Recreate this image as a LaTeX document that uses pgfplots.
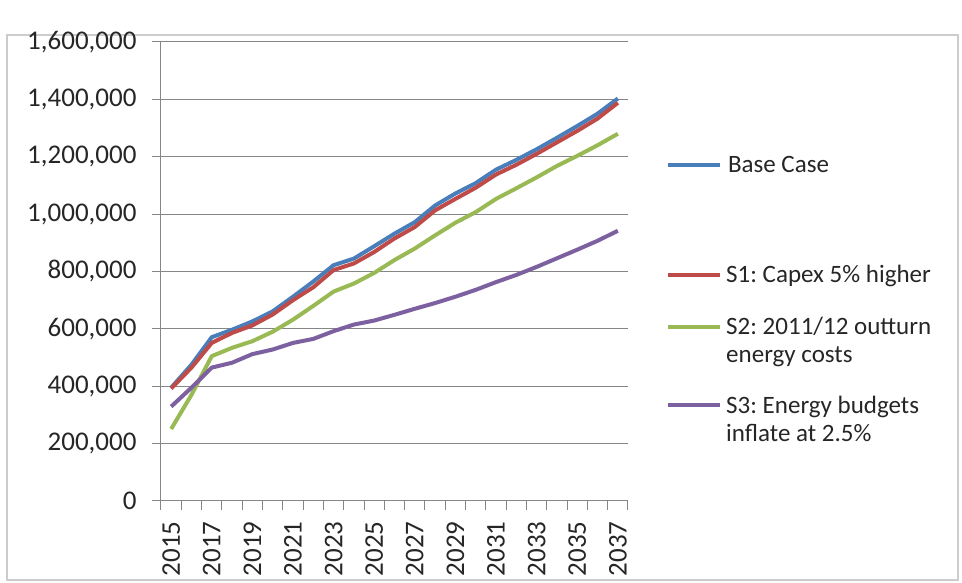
\documentclass[border=0pt]{standalone}
\usepackage{pgfplots}
\usepackage{pgfplotstable}
\pgfplotsset{compat=1.18}
\usepackage{fontspec}
\setmainfont{Carlito}
\frenchspacing

\definecolor{sBase}{HTML}{4A7EBB}
\definecolor{sOne}{HTML}{BE4B48}
\definecolor{sTwo}{HTML}{98B954}
\definecolor{sThree}{HTML}{7D60A0}
\definecolor{gridgray}{HTML}{868686}

% cumulative cost by year, four scenarios
\pgfplotstableread{
year base s1 s2 s3
2015 395000 392000 251000 329000
2016 475000 465000 370000 395000
2017 571000 551000 505000 465000
2018 597000 586000 534000 482000
2019 626000 612000 557000 512000
2020 661000 650000 590000 528000
2021 712000 700000 632000 551000
2022 765000 745000 680000 565000
2023 822000 805000 730000 592000
2024 845000 828000 758000 615000
2025 888000 868000 795000 629000
2026 932000 915000 840000 649000
2027 972000 955000 880000 670000
2028 1030000 1013000 926000 690000
2029 1072000 1053000 970000 712000
2030 1108000 1092000 1007000 736000
2031 1155000 1138000 1053000 763000
2032 1189000 1172000 1090000 788000
2033 1226000 1210000 1128000 816000
2034 1266000 1250000 1168000 846000
2035 1307000 1290000 1203000 876000
2036 1350000 1333000 1240000 907000
2037 1403000 1388000 1280000 942000
}\costs

\pgfplotsset{
  box/.style={at={(161pt,82pt)}, anchor=south west,
    scale only axis, width=467pt, height=459pt},
  keystyle/.style={
    legend style={at={(rel axis cs:1.0814,#1)}, anchor=north west,
      draw=none, fill=none, inner sep=0pt, outer sep=0pt,
      font=\fontsize{25}{28}\selectfont, text=black!85,
      nodes={inner sep=0pt, anchor=base west}},
    legend image code/.code={%
      \draw[##1, line width=4pt] (0pt,8pt) -- (52pt,8pt);
      \path (58pt,8pt);}},
  onlykey/.style={box, hide axis, xmin=0, xmax=1, ymin=0, ymax=1, keystyle=#1},
}

\begin{document}
\begin{tikzpicture}[x=1pt,y=1pt]
\useasboundingbox (0,0) rectangle (962,583);
\draw[gray!40, line width=1.5pt] (7,3) rectangle (958,548);
\begin{axis}[
  box,
  xmin=2014.5, xmax=2037.5, ymin=0, ymax=1600000,
  axis x line*=bottom, axis y line*=left,
  axis line style={gridgray, line width=1pt, -},
  tick align=outside, tick pos=left,
  major tick length=9pt,
  every tick/.style={gridgray, line width=1pt},
  xtick={2014.5,2015.5,...,2037.5},
  xticklabels={},
  extra x ticks={2015,2017,...,2037},
  extra x tick labels={2015,2017,2019,2021,2023,2025,2027,2029,2031,2033,2035,2037},
  extra x tick style={major tick length=0pt,
    xticklabel style={rotate=90, anchor=east}},
  xticklabel shift=17pt,
  ytick={0,200000,...,1600000},
  scaled y ticks=false,
  yticklabel style={xshift=-12pt, /pgf/number format/.cd, fixed, 1000 sep={,}},
  /pgf/number format/assume math mode=true,
  tick label style={font=\fontsize{27}{30}\selectfont, text=black!85},
  ymajorgrids,
  grid style={gridgray, line width=1pt},
  keystyle=0.751,
  every axis plot/.append style={line width=4pt, line join=round},
]
\addplot[sBase] table[x=year, y=base] {\costs};
\addlegendentry{Base Case}
\addplot[sOne] table[x=year, y=s1] {\costs};
\addplot[sTwo] table[x=year, y=s2] {\costs};
\addplot[sThree] table[x=year, y=s3] {\costs};
\end{axis}
% one legend key per scenario, spaced as in the original
\begin{axis}[onlykey=0.513]
\addlegendimage{sOne}
\addlegendentry{S1: Capex 5\% higher}
\end{axis}
\begin{axis}[onlykey=0.405]
\addlegendimage{sTwo}
\addlegendentry{\begin{tabular}[t]{@{}l@{}}S2: 2011/12 outturn\\energy costs\end{tabular}}
\end{axis}
\begin{axis}[onlykey=0.234]
\addlegendimage{sThree}
\addlegendentry{\begin{tabular}[t]{@{}l@{}}S3: Energy budgets\\inflate at 2.5\%\end{tabular}}
\end{axis}
\end{tikzpicture}
\end{document}
